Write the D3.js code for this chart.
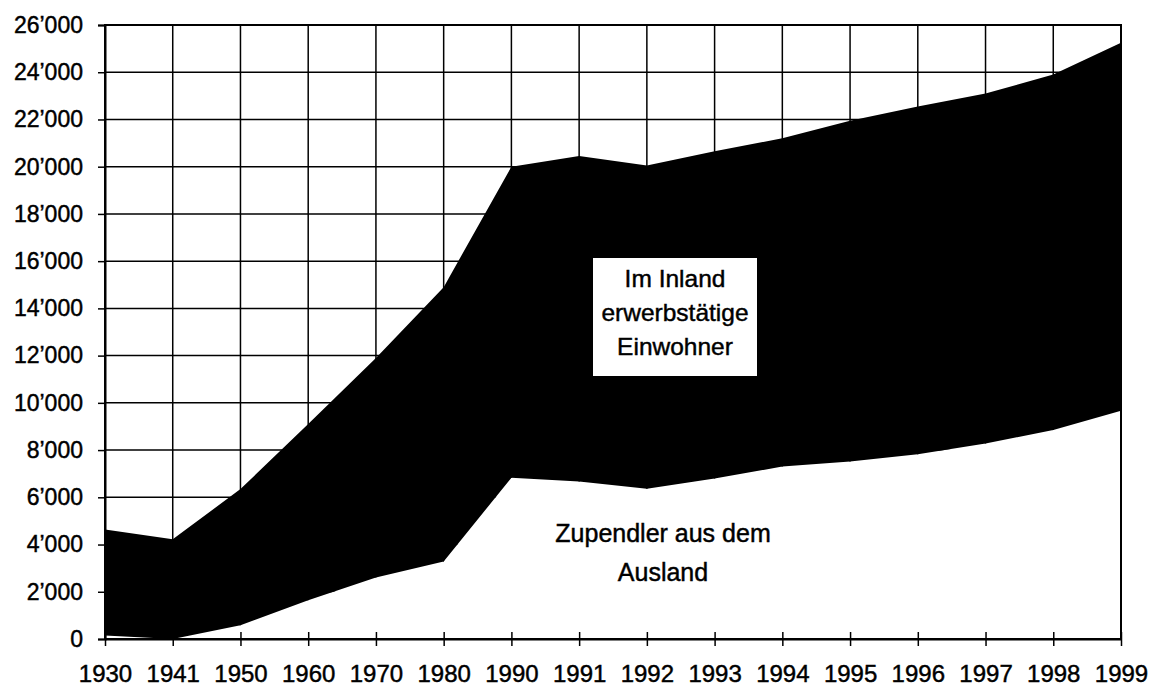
<!DOCTYPE html>
<html>
<head>
<meta charset="utf-8">
<script src="https://cdn.jsdelivr.net/npm/d3@7"></script>
<style>
  html, body { margin: 0; padding: 0; background: #fff; }
  svg { display: block; font-family: "Liberation Sans", Arial, Helvetica, sans-serif; }
  text { stroke: #000; stroke-width: 0.45px; }
</style>
</head>
<body>
<svg id="chart" width="1152" height="688"></svg>
<script>
// ---- data ----
const categories = ["1930","1941","1950","1960","1970","1980","1990","1991","1992","1993","1994","1995","1996","1997","1998","1999"];
// Zupendler aus dem Ausland (bottom layer)
const zupendler = [150, 0, 580, 1640, 2600, 3280, 6830, 6670, 6360, 6800, 7300, 7520, 7820, 8280, 8850, 9670];
// Im Inland erwerbstätige Einwohner (stacked on top)
const inland = [4490, 4220, 5770, 7460, 9300, 11620, 13170, 13780, 13690, 13850, 13900, 14430, 14730, 14820, 15050, 15580];
const yTicks = [0, 2000, 4000, 6000, 8000, 10000, 12000, 14000, 16000, 18000, 20000, 22000, 24000, 26000];
const seriesKeys = ["zupendler", "inland"];
const seriesLabels = {
  inland: ["Im Inland", "erwerbstätige", "Einwohner"],
  zupendler: ["Zupendler aus dem", "Ausland"]
};

// ---- layout ----
const svg = d3.select("#chart");
const pLeft = 105, pRight = 1121, pTop = 25, pBottom = 639;

const x = d3.scalePoint().domain(categories).range([pLeft, pRight]);
const y = d3.scaleLinear().domain([0, 26000]).range([pBottom, pTop]);

const loc = d3.formatLocale({decimal: ".", thousands: "\u2019", grouping: [3], currency: ["", ""]});
const fmt = loc.format(",d");

const table = categories.map((c, i) => ({cat: c, zupendler: zupendler[i], inland: inland[i]}));
const stacked = d3.stack().keys(seriesKeys)(table);

// grid
const grid = svg.append("g");
grid.selectAll("line.h").data(yTicks).join("line")
  .attr("x1", pLeft).attr("x2", pRight)
  .attr("y1", d => y(d)).attr("y2", d => y(d))
  .attr("stroke", "#000").attr("stroke-width", 1.5);
grid.selectAll("line.v").data(categories).join("line")
  .attr("x1", d => x(d)).attr("x2", d => x(d))
  .attr("y1", pTop).attr("y2", pBottom)
  .attr("stroke", "#000").attr("stroke-width", 1.5);

// areas
const area = d3.area()
  .x(d => x(d.data.cat))
  .y0(d => y(d[0]))
  .y1(d => y(d[1]));
const fills = {zupendler: "#ffffff", inland: "#000000"};
svg.append("g").selectAll("path").data(stacked).join("path")
  .attr("d", area)
  .attr("fill", d => fills[d.key]);

// frame
svg.append("rect")
  .attr("x", pLeft).attr("y", pTop)
  .attr("width", pRight - pLeft).attr("height", pBottom - pTop)
  .attr("fill", "none").attr("stroke", "#000").attr("stroke-width", 2);

// y axis
const yAxis = svg.append("g").attr("transform", `translate(${pLeft},0)`)
  .call(d3.axisLeft(y).tickValues(yTicks).tickFormat(fmt).tickSize(7).tickPadding(15));
yAxis.select(".domain").attr("stroke-width", 2);
yAxis.selectAll(".tick line").attr("stroke-width", 1.5);
yAxis.selectAll("text").attr("font-size", 23).attr("fill", "#000")
  .attr("font-family", "Liberation Sans, Arial, sans-serif");

// x axis
const xAxis = svg.append("g").attr("transform", `translate(0,${pBottom})`)
  .call(d3.axisBottom(x).tickSizeInner(7).tickSizeOuter(0).tickPadding(19));
xAxis.select(".domain").attr("stroke-width", 2);
xAxis.selectAll(".tick line").attr("y1", -7).attr("stroke-width", 1.5);
xAxis.selectAll("text").attr("font-size", 24).attr("fill", "#000")
  .attr("font-family", "Liberation Sans, Arial, sans-serif");

// series label: Inland (white box)
const boxG = svg.append("g");
boxG.append("rect")
  .attr("x", 593).attr("y", 258).attr("width", 164).attr("height", 118)
  .attr("fill", "#fff");
const t1 = boxG.append("text").attr("text-anchor", "middle").attr("font-size", 24.5).attr("fill", "#000");
seriesLabels.inland.forEach((s, i) => {
  t1.append("tspan").attr("x", 675).attr("y", 287 + i * 34).text(s);
});

// series label: Zupendler
const t2 = svg.append("text").attr("text-anchor", "middle").attr("font-size", 25).attr("fill", "#000");
seriesLabels.zupendler.forEach((s, i) => {
  t2.append("tspan").attr("x", 663).attr("y", 542 + i * 39).text(s);
});
</script>
</body>
</html>
